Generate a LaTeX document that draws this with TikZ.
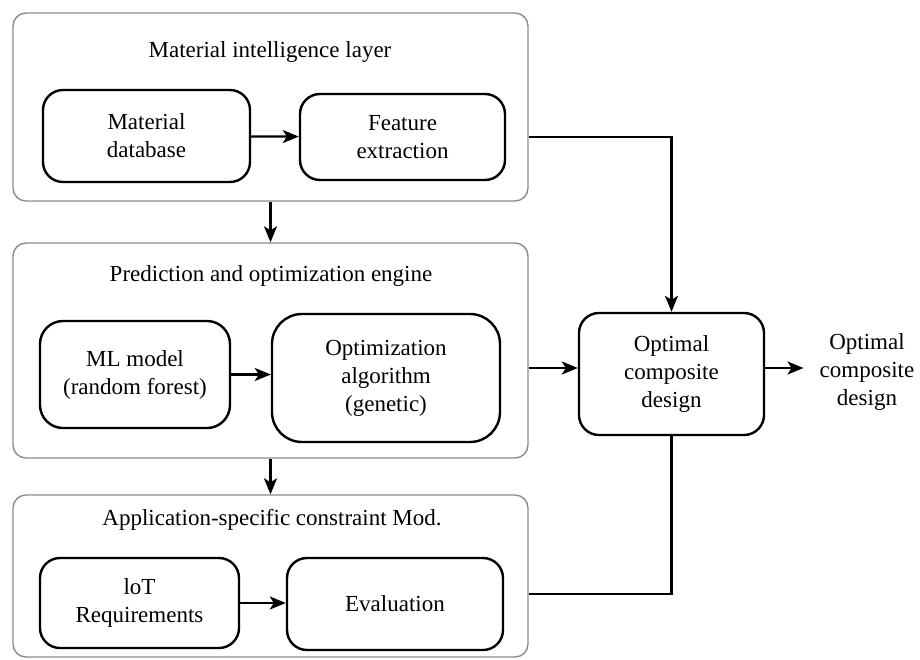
\documentclass[tikz,border=0pt]{standalone}
\usepackage{fontspec}
\setmainfont{Liberation Serif}
\newfontfamily\diagfont{Liberation Serif}
\usetikzlibrary{positioning,arrows.meta}
\tikzset{>={Stealth[length=16pt,width=13pt,inset=4pt]},
  every node/.style={font=\diagfont\fontsize{23}{28}\selectfont},
  layer/.style={draw=black!45,rounded corners=13pt,line width=1.4pt,minimum width=515pt,inner sep=0pt},
  block/.style={draw,rounded corners=20pt,line width=2.4pt,align=center,inner sep=0pt},
  link/.style={line width=2.2pt}}

\begin{document}
\begin{tikzpicture}[x=1pt,y=-1pt]
  \useasboundingbox (0,0) rectangle (920,659);
  \node [layer,minimum height=188pt] (L1) at (270.5,107) {};
  \node (t1) at (270,52) {Material intelligence layer};
  \node [block,minimum width=207pt,minimum height=92pt] (db) at (146.5,136) {Material\\database};
  \node [block,minimum width=205pt,minimum height=86pt] (feat) at (402.5,137) {Feature\\extraction};
  \node [layer,minimum height=215pt] (L2) at (270.5,350.5) {};
  \node (t2) at (271,276) {Prediction and optimization engine};
  \node [block,minimum width=190pt,minimum height=107pt,rounded corners=23pt] (ml) at (135,374.5) {ML model\\(random forest)};
  \node [block,minimum width=228pt,minimum height=128pt,rounded corners=30pt] (opt) at (386,378) {Optimization\\algorithm\\(genetic)};
  \node [layer,minimum height=162pt] (L3) at (270.5,576) {};
  \node (t3) at (272,520) {Application-specific constraint Mod.};
  \node [block,minimum width=199pt,minimum height=90pt] (iot) at (139.5,603) {loT\\Requirements};
  \node [block,minimum width=216pt,minimum height=92pt] (eval) at (395,604) {Evaluation};
  \node [block,minimum width=185pt,minimum height=122pt] (dsg) at (671.5,374) {Optimal\\composite\\design};
  \node [align=center,inner xsep=16pt] (out) at (867,372) {Optimal\\composite\\design};
  \draw [->,link] (db) -- (feat);
  \draw [->,link] (L1) -- (L2);
  \draw [->,link] (ml.east) -- (ml.east -| opt.west);
  \draw [->,link] (L2) -- (L3);
  \draw [->,link] (iot.east) -- (iot.east -| eval.west);
  \draw [->,link] (feat.east -| L1.east) -| (dsg.north);
  \draw [->,link] ([yshift=6pt]dsg.west -| L2.east) -- ([yshift=6pt]dsg.west);
  \draw [->,link] ([yshift=6pt]dsg.east) -- ([yshift=6pt]dsg.east -| out.west);
  \draw [link] ([yshift=-18pt]L3.east) -| (dsg.south);
\end{tikzpicture}
\end{document}
